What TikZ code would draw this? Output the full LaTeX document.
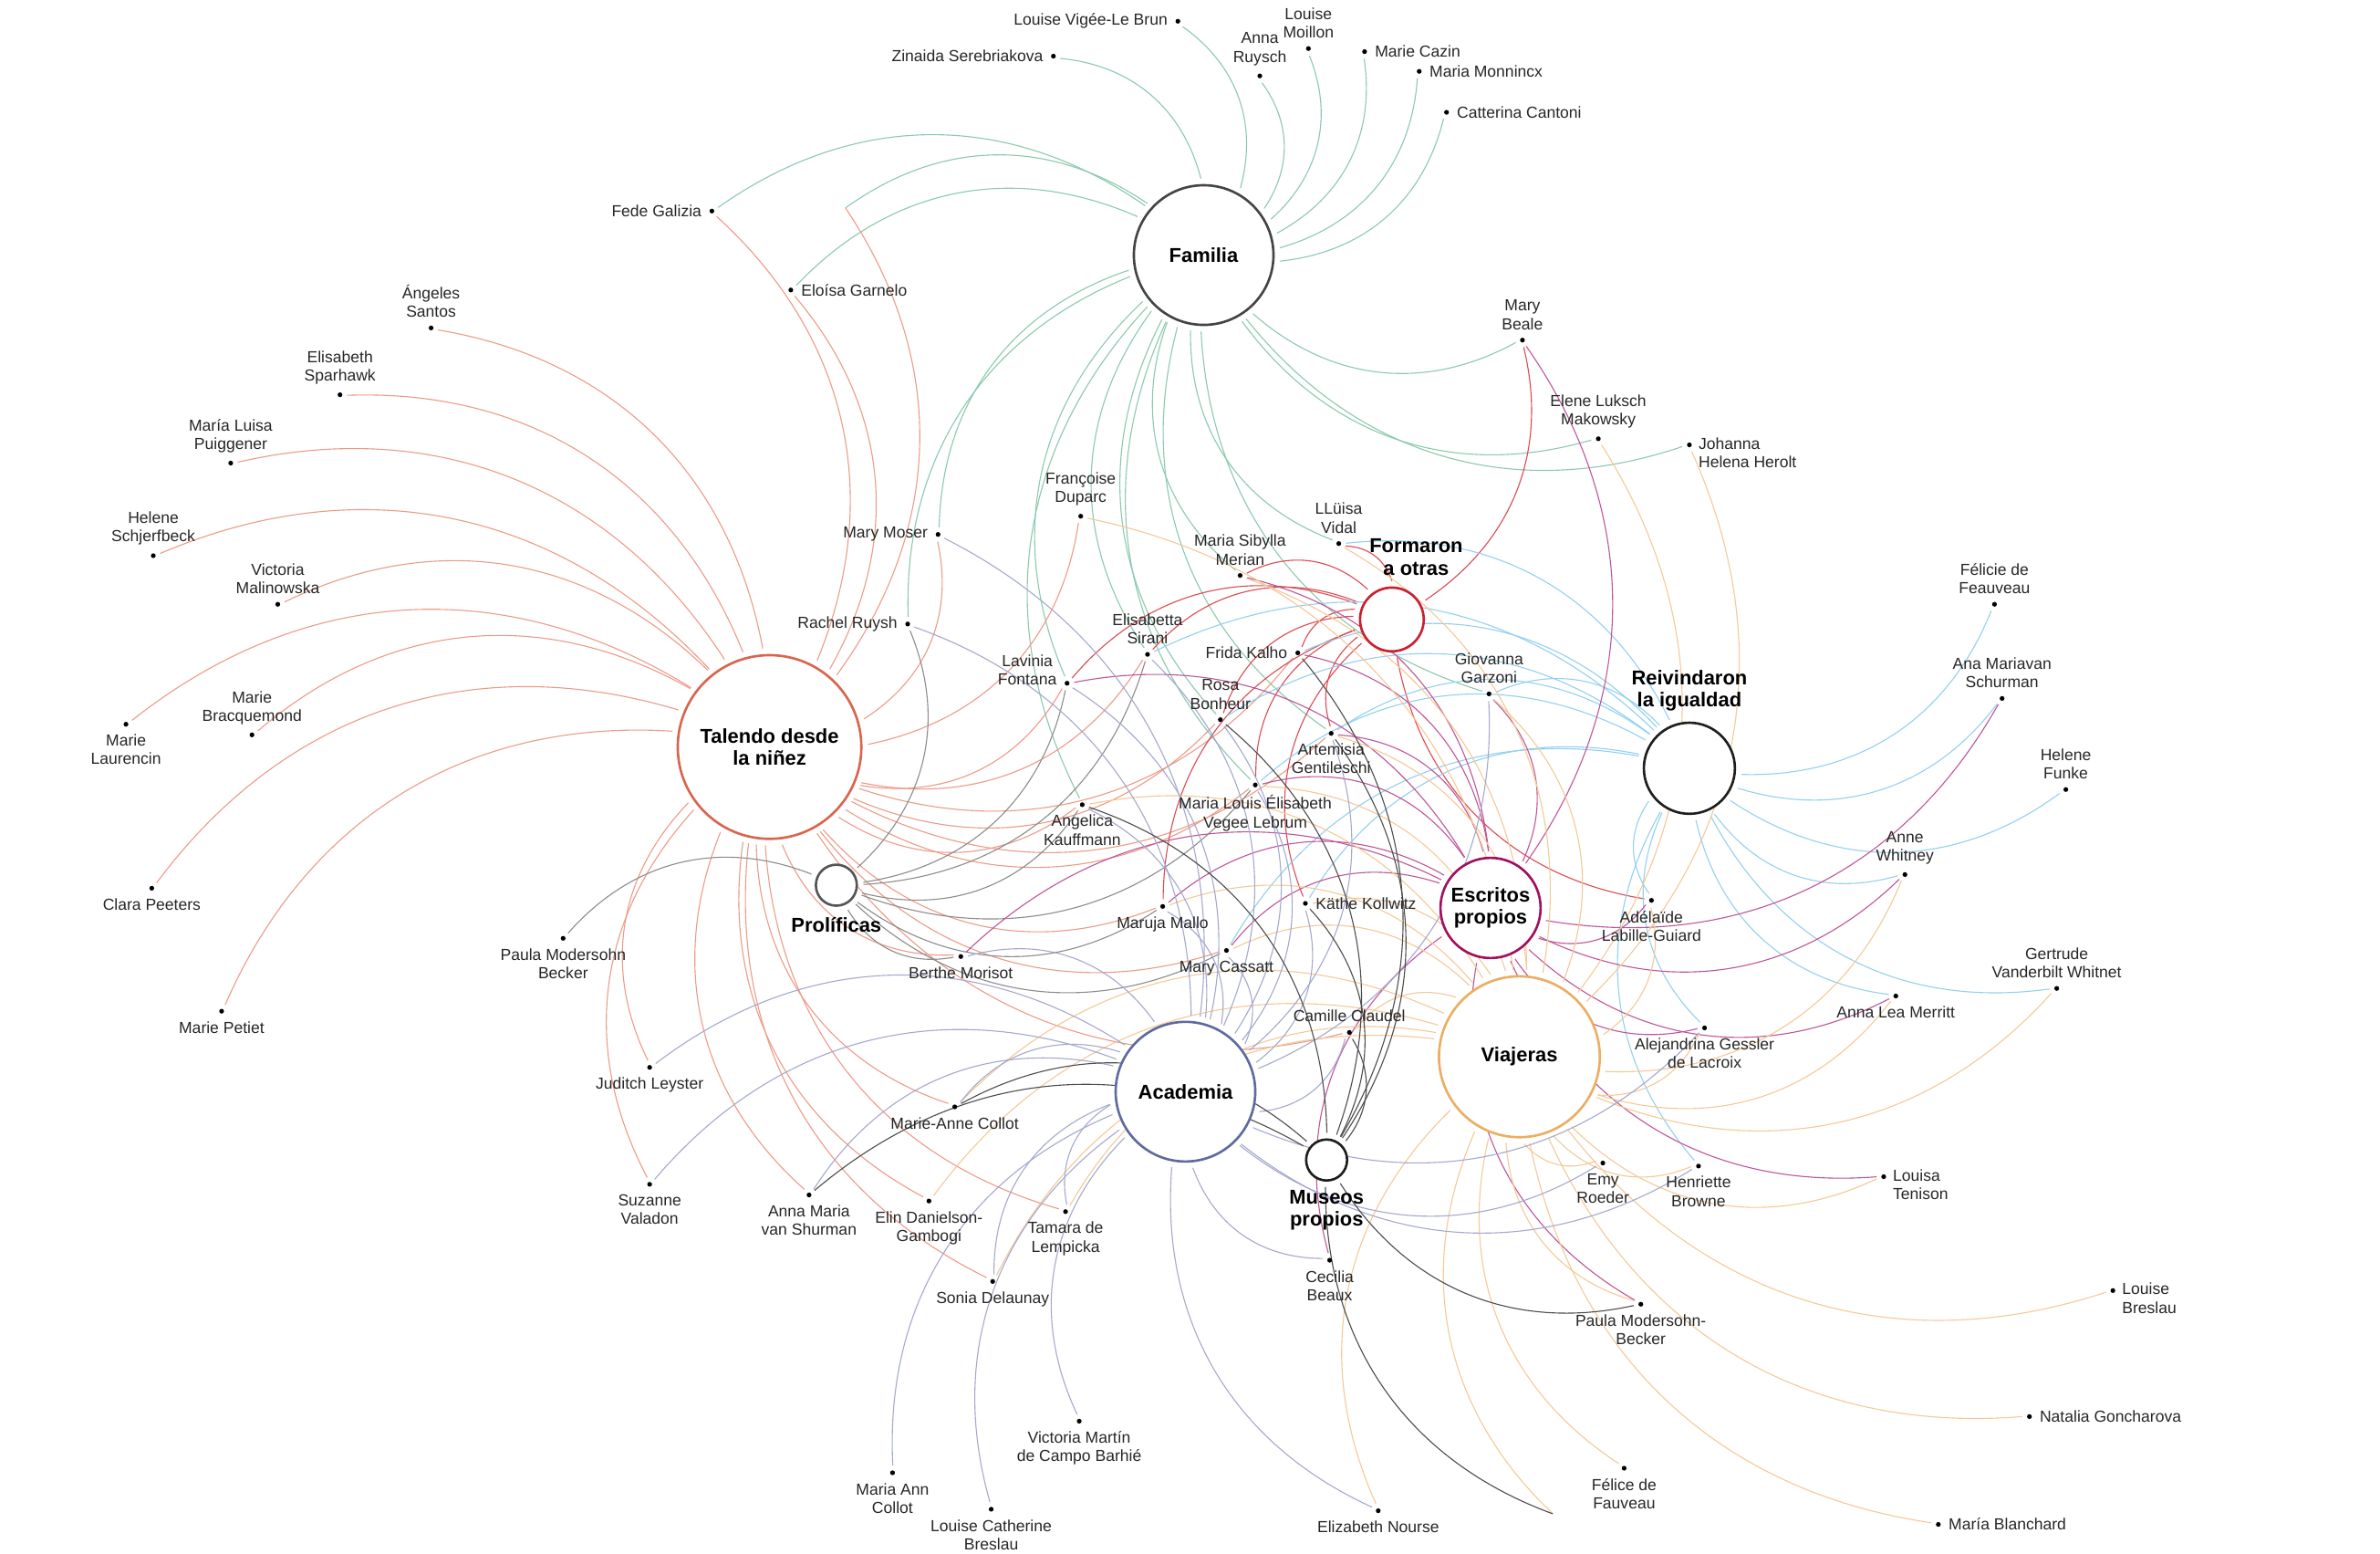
\documentclass[tikz,border=0pt]{standalone}
\usepackage{fontspec}
\setmainfont{Liberation Sans}
\usetikzlibrary{backgrounds}
\def\hubfont{\bfseries\fontsize{7.5}{8.3}\selectfont}
\def\lblfont{\fontsize{6}{6.9}\selectfont}

\definecolor{famhub}{HTML}{444444}
\definecolor{talhub}{HTML}{D9654E}
\definecolor{prohub}{HTML}{555555}
\definecolor{forhub}{HTML}{CC1F2E}
\definecolor{reihub}{HTML}{1E1E1E}
\definecolor{eschub}{HTML}{A1105F}
\definecolor{viahub}{HTML}{EBAE62}
\definecolor{acahub}{HTML}{5F6A9E}
\definecolor{mushub}{HTML}{1E1E1E}
\definecolor{famln}{HTML}{8BC9AD}
\definecolor{talln}{HTML}{EC9B88}
\definecolor{proln}{HTML}{8C8C8C}
\definecolor{forln}{HTML}{DC4A52}
\definecolor{reiln}{HTML}{93D0F0}
\definecolor{escln}{HTML}{BE5698}
\definecolor{vialn}{HTML}{F4C997}
\definecolor{acaln}{HTML}{A4A9CD}
\definecolor{musln}{HTML}{4D4D4D}

\tikzset{
	hub/.style={circle, draw, fill=white, line width=0.9pt, inner sep=0pt, outer sep=2.5pt, align=center, font=\hubfont},
	hubtxt/.style={align=center, font=\hubfont, inner sep=0pt},
	pt/.style={circle, fill=black, inner sep=0pt, minimum size=1.8pt, outer sep=1.8pt},
	lbl/.style={font=\lblfont, text=black!85, align=center, inner sep=1pt},
	link/.style={line width=0.38pt, bend right=35},
}

\begin{document}
\begin{tikzpicture}[x=0.02cm, y=-0.02cm]
			%%%%% START %%%%%
			\useasboundingbox (0,0) rectangle (1568,1023);
			
			% the groups
			\node[hub, draw=famhub, minimum size=1.84cm] (fam) at (793,168) {Familia};
			\node[hub, draw=talhub, minimum size=2.42cm] (tal) at (507,492) {Talendo desde\\la niñez};
			\node[hub, draw=prohub, minimum size=0.54cm] (pro) at (551,583) {};
			\node[hubtxt] (pro-t) at (551,609) {Prolíficas};
			\node[hub, draw=forhub, minimum size=0.84cm] (for) at (917,408) {};
			\node[hubtxt] (for-t) at (933,367) {Formaron\\a otras};
			\node[hub, draw=reihub, minimum size=1.2cm] (rei) at (1113,506) {};
			\node[hubtxt] (rei-t) at (1113,455) {Reivindaron\\la igualdad};
			\node[hub, draw=eschub, minimum size=1.32cm] (esc) at (982,598) {Escritos\\propios};
			\node[hub, draw=viahub, minimum size=2.12cm] (via) at (1001,696) {Viajeras};
			\node[hub, draw=acahub, minimum size=1.84cm] (aca) at (781,719) {Academia};
			\node[hub, draw=mushub, minimum size=0.54cm] (mus) at (874,764) {};
			\node[hubtxt] (mus-t) at (874,797) {Museos\\propios};
			
			% top
			\node[pt, label={[lbl]left:Louise Vigée-Le Brun}] (vigee) at (776,14) {};
			\node[pt, label={[lbl]left:Zinaida Serebriakova}] (zinaida) at (694,37) {};
			\node[pt, label={[lbl]above:Anna\\Ruysch}] (ruysch) at (830,50) {};
			\node[pt, label={[lbl]above:Louise\\Moillon}] (moillon) at (862,32) {};
			\node[pt, label={[lbl]right:Marie Cazin}] (cazin) at (899,34) {};
			\node[pt, label={[lbl]right:Maria Monnincx}] (monnincx) at (935,47) {};
			\node[pt, label={[lbl]right:Catterina Cantoni}] (cantoni) at (953,74) {};
			\node[pt, label={[lbl]left:Fede Galizia}] (galizia) at (469,139) {};
			\node[pt, label={[lbl]right:Eloísa Garnelo}] (garnelo) at (521,191) {};
			\coordinate (topfree) at (557,137);
			\node[pt, label={[lbl]above:Mary\\Beale}] (beale) at (1003,224) {};
			\node[pt, label={[lbl]above:Elene Luksch\\Makowsky}] (luksch) at (1053,289) {};
			\node[pt] (herolt) at (1113,293) {};
			\node[lbl, align=left, anchor=north west] (herolt-t) at (1117,286) {Johanna\\Helena Herolt};
			
			% left
			\node[pt, label={[lbl]above:Ángeles\\Santos}] (santos) at (284,216) {};
			\node[pt, label={[lbl]above:Elisabeth\\Sparhawk}] (sparhawk) at (224,260) {};
			\node[pt, label={[lbl]above:María Luisa\\Puiggener}] (puiggener) at (152,305) {};
			\node[pt, label={[lbl]above:Helene\\Schjerfbeck}] (schjerfbeck) at (101,366) {};
			\node[pt, label={[lbl]above:Victoria\\Malinowska}] (malinowska) at (183,398) {};
			\node[pt, label={[lbl]below:Marie\\Laurencin}] (laurencin) at (83,477) {};
			\node[pt, label={[lbl]above:Marie\\Bracquemond}] (bracquemond) at (166,484) {};
			\node[pt, label={[lbl]below:Clara Peeters}] (peeters) at (100,585) {};
			\node[pt, label={[lbl]below:Marie Petiet}] (petiet) at (146,666) {};
			\node[pt, label={[lbl]below:Paula Modersohn\\Becker}] (modersohn) at (371,618) {};
			\node[pt, label={[lbl]below:Juditch Leyster}] (leyster) at (428,703) {};
			\node[pt, label={[lbl]below:Suzanne\\Valadon}] (valadon) at (428,780) {};
			
			% bottom
			\node[pt, label={[lbl]below:Anna Maria\\van Shurman}] (shurman) at (533,787) {};
			\node[pt, label={[lbl]below:Elin Danielson-\\Gambogi}] (gambogi) at (612,791) {};
			\node[pt, label={[lbl]below:Marie-Anne Collot}] (mcollot) at (629,729) {};
			\node[pt, label={[lbl]below:Tamara de\\Lempicka}] (lempicka) at (702,798) {};
			\node[pt, label={[lbl]below:Sonia Delaunay}] (delaunay) at (654,844) {};
			\node[pt, label={[lbl]below:Maria Ann\\Collot}] (anncollot) at (588,970) {};
			\node[pt, label={[lbl]below:Louise Catherine\\Breslau}] (lcbreslau) at (653,994) {};
			\node[pt, label={[lbl]below:Victoria Martín\\de Campo Barhié}] (martin) at (711,936) {};
			\node[pt, label={[lbl]below:Elizabeth Nourse}] (nourse) at (908,995) {};
			\node[pt, label={[lbl]below:Cecilia\\Beaux}] (beaux) at (876,830) {};
			\node[pt, label={[lbl]below:Félice de\\Fauveau}] (fauveau) at (1070,967) {};
			\node[pt, label={[lbl]below:Paula Modersohn-\\Becker}] (pmbecker) at (1081,859) {};
			\node[pt, label={[lbl]below:Emy\\Roeder}] (roeder) at (1056,766) {};
			\node[pt, label={[lbl]below:Henriette\\Browne}] (browne) at (1119,768) {};
			\coordinate (botfree) at (1023,997);
			
			% right
			\node[pt] (tenison) at (1241,775) {};
			\node[lbl, align=left, anchor=north west] (tenison-t) at (1245,768) {Louisa\\Tenison};
			\node[pt] (lbreslau) at (1392,850) {};
			\node[lbl, align=left, anchor=north west] (lbreslau-t) at (1396,843) {Louise\\Breslau};
			\node[pt, label={[lbl]right:Natalia Goncharova}] (goncharova) at (1337,933) {};
			\node[pt, label={[lbl]right:María Blanchard}] (blanchard) at (1277,1004) {};
			\node[pt, label={[lbl]below:Alejandrina Gessler\\de Lacroix}] (gessler) at (1123,677) {};
			\node[pt, label={[lbl]below:Anna Lea Merritt}] (merritt) at (1249,656) {};
			\node[pt, label={[lbl]above:Gertrude\\Vanderbilt Whitnet}] (whitnet) at (1355,651) {};
			\node[pt, label={[lbl]above:Anne\\Whitney}] (whitney) at (1255,576) {};
			\node[pt, label={[lbl]above:Helene\\Funke}] (funke) at (1361,520) {};
			\node[pt, label={[lbl]above:Ana Mariavan\\Schurman}] (schurman) at (1319,460) {};
			\node[pt, label={[lbl]above:Félicie de\\Feauveau}] (feauveau) at (1314,398) {};
			\node[pt, label={[lbl]below:Adélaïde\\Labille-Guiard}] (adelaide) at (1088,593) {};
			
			% middle
			\node[pt, label={[lbl]above:Giovanna\\Garzoni}] (garzoni) at (981,457) {};
			\node[pt, label={[lbl]above:LLüisa\\Vidal}] (vidal) at (882,358) {};
			\node[pt, label={[lbl]above:Maria Sibylla\\Merian}] (merian) at (817,379) {};
			\node[pt, label={[lbl]above:Françoise\\Duparc}] (duparc) at (712,340) {};
			\node[pt, label={[lbl]left:Mary Moser}] (moser) at (618,352) {};
			\node[pt, label={[lbl]left:Rachel Ruysh}] (rachel) at (598,411) {};
			\node[pt, label={[lbl,yshift=5pt]left:Lavinia\\Fontana}] (lavinia) at (703,450) {};
			\node[pt, label={[lbl]above:Elisabetta\\Sirani}] (sirani) at (756,431) {};
			\node[pt, label={[lbl]left:Frida Kalho}] (frida) at (855,430) {};
			\node[pt, label={[lbl]above:Rosa\\Bonheur}] (bonheur) at (804,474) {};
			\node[pt, label={[lbl]below:Artemisia\\Gentileschi}] (artemisia) at (877,483) {};
			\node[pt, label={[lbl]below:Maria Louis Élisabeth\\Vegee Lebrum}] (vegee) at (827,517) {};
			\node[pt, label={[lbl]below:Angelica\\Kauffmann}] (kauffmann) at (713,530) {};
			\node[pt, label={[lbl]right:Käthe Kollwitz}] (kathe) at (860,595) {};
			\node[pt, label={[lbl]below:Maruja Mallo}] (mallo) at (766,597) {};
			\node[pt, label={[lbl]below:Mary Cassatt}] (cassatt) at (808,626) {};
			\node[pt, label={[lbl]below:Berthe Morisot}] (morisot) at (633,630) {};
			\node[pt, label={[lbl]above:Camille Claudel}] (claudel) at (889,680) {};
			
			% links, under the groups
			\begin{scope}[on background layer]
				\foreach \p in {vigee,zinaida,ruysch,moillon,cazin,monnincx,cantoni,galizia,topfree,garnelo,beale,luksch,herolt,vidal,merian,garzoni,moser,rachel,lavinia,sirani,kauffmann,artemisia,bonheur,vegee}
					\draw[link, famln] (fam) to (\p);
				\foreach \p in {galizia,topfree,garnelo,santos,sparhawk,puiggener,schjerfbeck,malinowska,laurencin,bracquemond,peeters,petiet,leyster,valadon,shurman,gambogi,mcollot,lempicka,delaunay,moser,duparc,lavinia,sirani,frida,bonheur,kauffmann,vegee,mallo,cassatt,morisot,claudel,artemisia}
					\draw[link, talln] (tal) to (\p);
				\foreach \p in {modersohn,rachel,lavinia,sirani,kauffmann,vegee,cassatt,morisot,mallo}
					\draw[link, proln] (pro) to (\p);
				\foreach \p in {vidal,merian,beale,lavinia,sirani,frida,artemisia,bonheur,vegee,mallo,kathe,adelaide}
					\draw[link, forln] (for) to (\p);
				\foreach \p in {vidal,sirani,frida,bonheur,garzoni,artemisia,kathe,cassatt,vegee,adelaide,gessler,browne,merritt,whitnet,whitney,funke,schurman,feauveau}
					\draw[link, reiln] (rei) to (\p);
				\foreach \p in {beale,merian,lavinia,frida,artemisia,vegee,garzoni,mallo,cassatt,morisot,beaux,pmbecker,adelaide,schurman,whitney,merritt,gessler,tenison}
					\draw[link, escln] (esc) to (\p);
				\foreach \p in {duparc,vidal,merian,luksch,herolt,garzoni,kauffmann,vegee,kathe,mallo,cassatt,claudel,mcollot,gambogi,lempicka,delaunay,nourse,fauveau,pmbecker,roeder,browne,tenison,lbreslau,goncharova,blanchard,gessler,merritt,whitney,whitnet,adelaide,botfree,artemisia}
					\draw[link, vialn] (via) to (\p);
				\foreach \p in {moser,rachel,lavinia,sirani,bonheur,vegee,garzoni,artemisia,kathe,mallo,cassatt,morisot,leyster,valadon,shurman,mcollot,lempicka,delaunay,anncollot,lcbreslau,martin,nourse,beaux,roeder,browne,gessler,claudel,kauffmann}
					\draw[link, acaln] (aca) to (\p);
				\foreach \p in {frida,bonheur,kauffmann,kathe,claudel,mcollot,shurman,pmbecker,botfree,artemisia}
					\draw[link, musln] (mus) to (\p);
			\end{scope}
			
			%%%%% END %%%%%
\end{tikzpicture}
\end{document}
